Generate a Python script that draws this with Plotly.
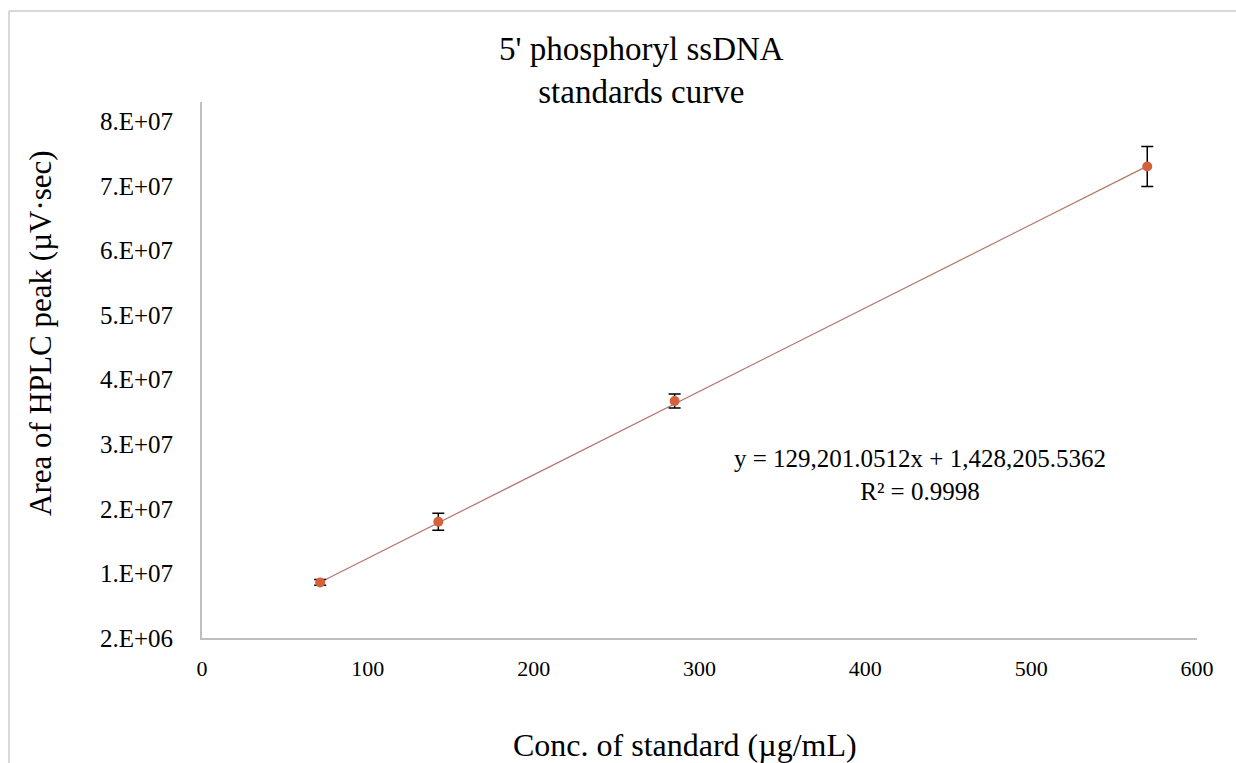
import plotly.graph_objects as go

# ---- data ----
conc = [71.25, 142.5, 285.0, 570.0]            # µg/mL
area = [10.6e6, 20.0e6, 38.7e6, 75.0e6]        # µV·sec
area_err = [0.45e6, 1.3e6, 1.1e6, 3.1e6]
slope = 129201.0512
intercept = 1428205.5362
r2_text = "R² = 0.9998"
eq_text = "y = 129,201.0512x + 1,428,205.5362"

y_tickvals = [2e6, 12e6, 22e6, 32e6, 42e6, 52e6, 62e6, 72e6, 82e6]
y_ticktext = ["2.E+06", "1.E+07", "2.E+07", "3.E+07", "4.E+07", "5.E+07", "6.E+07", "7.E+07", "8.E+07"]
x_tickvals = [0, 100, 200, 300, 400, 500, 600]

W, H = 1236, 763
L, R, T, B = 202, 39, 102, 125
PW, PH = W - L - R, H - T - B

def px_x(px):
    return (px - L) / PW

def px_y(py):
    return (H - B - py) / PH

FONT = "Liberation Serif, Times New Roman, serif"

fit_x = [min(conc), max(conc)]
fit_y = [slope * v + intercept for v in fit_x]

fig = go.Figure()
fig.add_trace(go.Scatter(
    x=fit_x, y=fit_y, mode="lines",
    line=dict(color="#b3756a", width=1.2),
    hoverinfo="skip", showlegend=False))
fig.add_trace(go.Scatter(
    x=conc, y=area, mode="markers",
    marker=dict(color="#d5603c", size=10),
    error_y=dict(type="data", array=area_err, visible=True,
                 color="#000000", thickness=1.5, width=6),
    showlegend=False))

fig.update_layout(
    width=W, height=H,
    margin=dict(l=L, r=R, t=T, b=B),
    paper_bgcolor="white", plot_bgcolor="white",
    font=dict(family=FONT, color="#000000"),
    showlegend=False,
    xaxis=dict(range=[0, 600], tickvals=x_tickvals, showgrid=False, zeroline=False,
               showline=True, linecolor="#bfbfbf", linewidth=2, ticks="",
               tickfont=dict(size=22, family=FONT), ticklabelstandoff=10),
    yaxis=dict(range=[2e6, 8.5e7], tickvals=y_tickvals, ticktext=y_ticktext,
               showgrid=False, zeroline=False,
               showline=True, linecolor="#bfbfbf", linewidth=2, ticks="",
               tickfont=dict(size=25, family=FONT), ticklabelstandoff=22),
    annotations=[
        dict(text="5' phosphoryl ssDNA<br>standards curve", xref="paper", yref="paper",
             x=px_x(641), y=px_y(70), xanchor="center", yanchor="middle",
             showarrow=False, font=dict(size=33, family=FONT)),
        dict(text="Area of HPLC peak (µV·sec)", xref="paper", yref="paper",
             x=px_x(40), y=px_y(333), xanchor="center", yanchor="middle", textangle=-90,
             showarrow=False, font=dict(size=31, family=FONT)),
        dict(text="Conc. of standard (µg/mL)", xref="paper", yref="paper",
             x=px_x(685), y=px_y(745), xanchor="center", yanchor="middle",
             showarrow=False, font=dict(size=32, family=FONT)),
        dict(text=eq_text + "<br>" + r2_text, xref="paper", yref="paper",
             x=px_x(920), y=px_y(475), xanchor="center", yanchor="middle", align="center",
             showarrow=False, font=dict(size=25, family=FONT)),
    ],
    shapes=[
        dict(type="line", xref="paper", yref="paper", x0=px_x(9), x1=px_x(W + 2),
             y0=px_y(11), y1=px_y(11), line=dict(color="#d9d9d9", width=2)),
        dict(type="line", xref="paper", yref="paper", x0=px_x(9), x1=px_x(9),
             y0=px_y(11), y1=px_y(H + 2), line=dict(color="#d9d9d9", width=2)),
    ],
)

fig.write_html("out.html")
